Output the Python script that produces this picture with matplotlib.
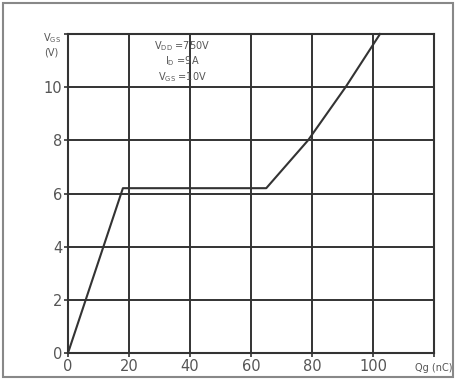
import matplotlib.pyplot as plt
from matplotlib.patches import Rectangle

# gate charge curve, Qg (nC) vs VGS (V)
qg = [0, 18, 65, 78.7, 91, 102.3]
vgs = [0, 6.2, 6.2, 8, 10, 12]

x_ticks = [0, 20, 40, 60, 80, 100]
y_ticks = [0, 2, 4, 6, 8, 10]
conditions = ["V$_{\\mathrm{DD}}$ =750V", "I$_{\\mathrm{D}}$ =9A", "V$_{\\mathrm{GS}}$ =10V"]

line_col = '#333333'
text_col = '#555555'

fig = plt.figure(figsize=(4.58, 3.79), dpi=100)
fig.patches.append(Rectangle((3 / 458, 2 / 379), 450 / 458, 374 / 379, transform=fig.transFigure,
                             fill=False, edgecolor='#888888', linewidth=1.5))

ax = fig.add_axes([68 / 458, 26 / 379, 366 / 458, 319 / 379])
ax.plot(qg, vgs, color=line_col, linewidth=1.5, clip_on=False, zorder=3)

ax.set_xlim(0, 120)
ax.set_ylim(0, 12)
ax.set_xticks(x_ticks + [120])
ax.set_xticklabels([str(t) for t in x_ticks] + [''])
ax.set_yticks(y_ticks + [12])
ax.set_yticklabels([str(t) for t in y_ticks] + [''])
ax.grid(True, color=line_col, linewidth=1.4)
for s in ax.spines.values():
    s.set_color(line_col)
    s.set_linewidth(1.5)
ax.tick_params(length=3, width=1.2, color=line_col, labelcolor=text_col, labelsize=10.5, pad=1)

ax.text(1.0, -0.03, "Qg (nC)", transform=ax.transAxes, ha='center', va='top',
        fontsize=7, color=text_col)
ax.text(-0.045, 1.01, "V$_{\\mathrm{GS}}$\n(V)", transform=ax.transAxes, ha='center', va='top',
        fontsize=7, color=text_col, linespacing=1.3)

ax.text(37.5, 11.8, "\n".join(conditions), ha='center', va='top',
        fontsize=7, color=text_col, linespacing=1.15)

fig.savefig('out.png', dpi=100)
